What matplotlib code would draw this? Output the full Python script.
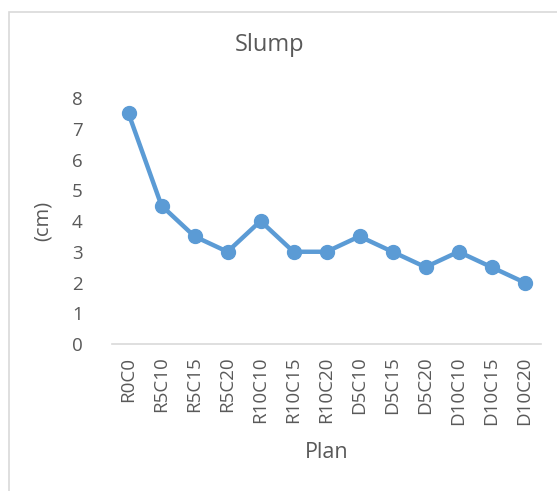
import matplotlib.pyplot as plt
from matplotlib.patches import Rectangle

plans = ['R0C0', 'R5C10', 'R5C15', 'R5C20', 'R10C10', 'R10C15', 'R10C20',
         'D5C10', 'D5C15', 'D5C20', 'D10C10', 'D10C15', 'D10C20']
slump = [7.5, 4.5, 3.5, 3.0, 4.0, 3.0, 3.0, 3.5, 3.0, 2.5, 3.0, 2.5, 2.0]
yticks = [0, 1, 2, 3, 4, 5, 6, 7, 8]

W, H = 557, 491
plt.rcParams['font.family'] = ['Open Sans', 'DejaVu Sans']
txt = '#595959'

fig = plt.figure(figsize=(W / 100, H / 100), dpi=100)
# chart border (cut by image edges)
fig.patches.append(Rectangle((9 / W, -0.1), 1.2, 1 - 12 / H + 0.1,
                             transform=fig.transFigure, fill=False,
                             edgecolor='#D9D9D9', linewidth=1.2))

ax = fig.add_axes([112 / W, 1 - 344 / H, (541 - 112) / W, (344 - 98) / H])
x = range(len(plans))
ax.plot(x, slump, color='#5B9BD5', linewidth=3.2, marker='o', markersize=10,
        solid_capstyle='round')
ax.set_xlim(-0.5, len(plans) - 0.5)
ax.set_ylim(0, 8)
ax.set_yticks(yticks)
ax.set_xticks(list(x))
ax.set_xticklabels(plans, rotation=90)
ax.tick_params(length=0, labelsize=13.5, colors=txt)
ax.tick_params(axis='y', pad=21)
ax.tick_params(axis='x', pad=9)
for s in ['top', 'right', 'left']:
    ax.spines[s].set_visible(False)
ax.spines['bottom'].set_color('#D9D9D9')
ax.spines['bottom'].set_linewidth(1.2)
ax.patch.set_alpha(0)

fig.text(270 / W, 1 - 45 / H, 'Slump', ha='center', va='center', fontsize=17, color=txt)
fig.text(327 / W, 1 - 453 / H, 'Plan', ha='center', va='center', fontsize=15.5, color=txt)
fig.text(43 / W, 1 - 221 / H, '(cm)', ha='center', va='center', rotation=90, fontsize=14.5, color=txt)

fig.savefig('out.png', dpi=100)
